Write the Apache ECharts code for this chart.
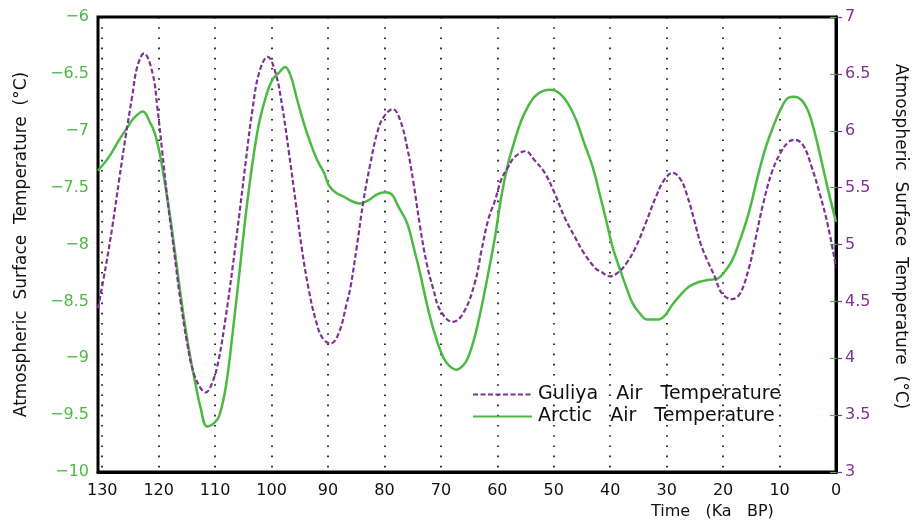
<!DOCTYPE html>
<html>
<head>
<meta charset="utf-8">
<script src="https://cdn.jsdelivr.net/npm/echarts@6/dist/echarts.min.js"></script>
<style>
  html, body { margin: 0; padding: 0; background: #fff; }
  #chart { width: 917px; height: 522px; }
</style>
</head>
<body>
<div id="chart"></div>
<script>
// Age axis (ka BP) and temperature series
const xTicks = [0, 10, 20, 30, 40, 50, 60, 70, 80, 90, 100, 110, 120, 130];
const xRange = [0, 130.75];
const leftRange = [-10, -6];   // Arctic, °C
const rightRange = [3, 7];     // Guliya, °C

const guliyaAge = [130.75, 129.4, 128.2, 127.0, 125.85, 124.7, 123.8, 122.6, 121.1, 120.25, 119.4, 118.5, 117.3, 116.15, 114.95, 113.8, 112.6, 111.7, 110.55, 109.4, 108.1, 106.9, 105.7, 104.55, 103.4, 102.2, 100.7, 99.3, 98.1, 96.9, 95.7, 94.6, 93.4, 92.2, 91.0, 89.55, 88.1, 86.7, 86.0, 84.9, 83.7, 82.5, 81.3, 80.15, 78.5, 77.2, 76.0, 74.85, 73.7, 72.5, 71.3, 70.1, 67.9, 66.0, 64.0, 62.8, 61.6, 60.4, 59.3, 58.1, 56.9, 55.0, 53.4, 51.6, 49.85, 48.1, 46.3, 44.6, 42.6, 41.6, 40.1, 38.7, 37.2, 35.45, 33.7, 31.9, 30.4, 28.9, 27.5, 26.3, 25.15, 24.0, 22.8, 21.5, 20.2, 18.4, 17.0, 15.5, 14.3, 12.9, 11.4, 9.9, 8.45, 7.3, 5.8, 4.3, 2.9, 1.4, 0];
const guliyaTemp = [4.44, 4.80, 5.16, 5.57, 5.95, 6.30, 6.56, 6.68, 6.51, 6.21, 5.83, 5.42, 4.95, 4.51, 4.13, 3.87, 3.74, 3.70, 3.78, 3.98, 4.37, 4.80, 5.27, 5.74, 6.18, 6.51, 6.65, 6.51, 6.21, 5.80, 5.36, 4.95, 4.60, 4.34, 4.18, 4.13, 4.22, 4.48, 4.63, 4.98, 5.39, 5.71, 5.98, 6.12, 6.19, 6.09, 5.86, 5.54, 5.16, 4.83, 4.60, 4.42, 4.32, 4.40, 4.66, 4.95, 5.22, 5.39, 5.57, 5.68, 5.77, 5.82, 5.74, 5.63, 5.45, 5.24, 5.07, 4.92, 4.79, 4.76, 4.72, 4.75, 4.83, 4.98, 5.19, 5.42, 5.57, 5.63, 5.57, 5.42, 5.22, 5.01, 4.86, 4.72, 4.57, 4.52, 4.57, 4.78, 5.04, 5.36, 5.63, 5.80, 5.90, 5.92, 5.87, 5.68, 5.45, 5.16, 4.80];

const arcticAge = [130.75, 128.8, 127.0, 125.55, 124.4, 122.8, 121.7, 120.7, 119.7, 118.8, 117.9, 117.0, 116.15, 115.3, 114.4, 113.5, 112.6, 111.4, 110.2, 109.3, 108.1, 106.9, 105.7, 104.55, 103.4, 102.2, 101.0, 99.85, 98.7, 97.6, 96.6, 95.45, 94.3, 93.1, 91.9, 90.7, 89.85, 88.7, 87.2, 85.75, 84.3, 82.8, 81.3, 79.85, 78.7, 77.5, 76.0, 74.85, 73.7, 72.5, 71.3, 70.1, 69.0, 67.3, 66.0, 65.15, 64.0, 62.8, 61.6, 60.4, 59.3, 58.1, 56.9, 55.75, 54.6, 53.4, 51.9, 50.45, 49.0, 47.5, 46.0, 44.6, 43.1, 41.9, 40.75, 39.6, 38.4, 37.2, 36.0, 34.85, 33.4, 31.6, 30.4, 29.0, 27.5, 26.0, 24.3, 22.5, 21.0, 19.9, 18.4, 17.0, 15.5, 14.0, 12.6, 11.1, 9.6, 8.45, 7.4, 6.1, 4.9, 3.75, 2.6, 1.4, 0];
const arcticTemp = [-7.35, -7.23, -7.08, -6.97, -6.89, -6.83, -6.91, -7.02, -7.23, -7.49, -7.78, -8.11, -8.43, -8.72, -8.99, -9.22, -9.43, -9.60, -9.57, -9.51, -9.25, -8.78, -8.25, -7.73, -7.29, -6.93, -6.70, -6.55, -6.49, -6.44, -6.52, -6.73, -6.93, -7.11, -7.26, -7.37, -7.48, -7.54, -7.58, -7.62, -7.64, -7.61, -7.56, -7.54, -7.56, -7.67, -7.81, -8.02, -8.25, -8.52, -8.75, -8.93, -9.04, -9.10, -9.06, -8.99, -8.81, -8.55, -8.25, -7.93, -7.58, -7.29, -7.08, -6.91, -6.79, -6.70, -6.65, -6.64, -6.67, -6.76, -6.91, -7.11, -7.32, -7.55, -7.78, -8.02, -8.20, -8.37, -8.52, -8.60, -8.66, -8.66, -8.63, -8.53, -8.44, -8.37, -8.33, -8.31, -8.30, -8.25, -8.14, -7.96, -7.73, -7.43, -7.17, -6.96, -6.79, -6.71, -6.70, -6.73, -6.83, -7.02, -7.26, -7.52, -7.80];

const GREEN = '#4cb944';
const PURPLE = '#7d3294';
const FONT = 'DejaVu Sans';
const AXIS_TITLE = 'Atmospheric  Surface  Temperature  (°C)';

const pairs = (xs, ys) => xs.map((x, i) => [x, ys[i]]);
const minus = v => String(v).replace('-', '\u2212');

const chart = echarts.init(document.getElementById('chart'));
chart.setOption({
  animation: false,
  backgroundColor: '#fff',
  textStyle: { fontFamily: FONT },
  grid: {
    left: 98, right: 78, top: 17, bottom: 50,
    show: true, borderColor: '#000', borderWidth: 3, backgroundColor: 'transparent'
  },
  legend: {
    left: 467, top: 380, orient: 'vertical',
    itemWidth: 59, itemHeight: 14, itemGap: 3,
    itemStyle: { color: 'rgba(0,0,0,0)', borderWidth: 0, opacity: 0 },
    textStyle: { color: '#111', fontSize: 19, fontFamily: FONT, padding: [0, 0, 0, 1] },
    data: ['Guliya   Air   Temperature', 'Arctic   Air   Temperature']
  },
  xAxis: {
    type: 'value', inverse: true,
    min: xRange[0], max: xRange[1], interval: xTicks[1] - xTicks[0],
    axisLine: { show: true, lineStyle: { color: '#000', width: 3 } },
    axisTick: { show: false },
    axisLabel: { color: '#111', fontSize: 16, margin: 11, showMaxLabel: false, fontFamily: FONT },
    splitLine: { show: true, lineStyle: { color: '#000', width: 1.6, type: [1.6, 8.6] } }
  },
  yAxis: [
    {
      type: 'value', position: 'left',
      min: leftRange[0], max: leftRange[1], interval: 0.5,
      axisLine: { show: true, lineStyle: { color: '#000', width: 3 } },
      axisTick: { show: true, inside: false, length: 6, lineStyle: { color: GREEN, width: 1.2 } },
      axisLabel: { color: GREEN, fontSize: 16, margin: 9, formatter: minus, fontFamily: FONT },
      splitLine: { show: false },
      name: AXIS_TITLE,
      nameLocation: 'middle', nameGap: 68,
      nameTextStyle: { color: '#111', fontSize: 17, fontFamily: FONT }
    },
    {
      type: 'value', position: 'right',
      min: rightRange[0], max: rightRange[1], interval: 0.5,
      axisLine: { show: true, lineStyle: { color: '#000', width: 3 } },
      axisTick: { show: true, inside: false, length: 6, lineStyle: { color: PURPLE, width: 1.2 } },
      axisLabel: { color: PURPLE, fontSize: 16, margin: 9, fontFamily: FONT },
      splitLine: { show: false },
      name: AXIS_TITLE,
      nameLocation: 'middle', nameGap: 56, nameRotate: -90,
      nameTextStyle: { color: '#111', fontSize: 17, fontFamily: FONT, padding: [0, 16, 0, 0] }
    }
  ],
  graphic: [{
    type: 'text', left: 651, top: 504,
    style: { text: 'Time   (Ka   BP)', fill: '#111', font: '16px "DejaVu Sans"' }
  }],
  series: [
    {
      name: 'Guliya   Air   Temperature', type: 'line', yAxisIndex: 1,
      data: pairs(guliyaAge, guliyaTemp),
      smooth: 0.4, symbol: 'none', z: 3,
      lineStyle: { color: PURPLE, width: 2.2, type: [5, 2.5] },
      itemStyle: { color: PURPLE }
    },
    {
      name: 'Arctic   Air   Temperature', type: 'line', yAxisIndex: 0,
      data: pairs(arcticAge, arcticTemp),
      smooth: 0.4, symbol: 'none', z: 2,
      lineStyle: { color: GREEN, width: 2.5 },
      itemStyle: { color: GREEN }
    }
  ]
});
</script>
</body>
</html>
